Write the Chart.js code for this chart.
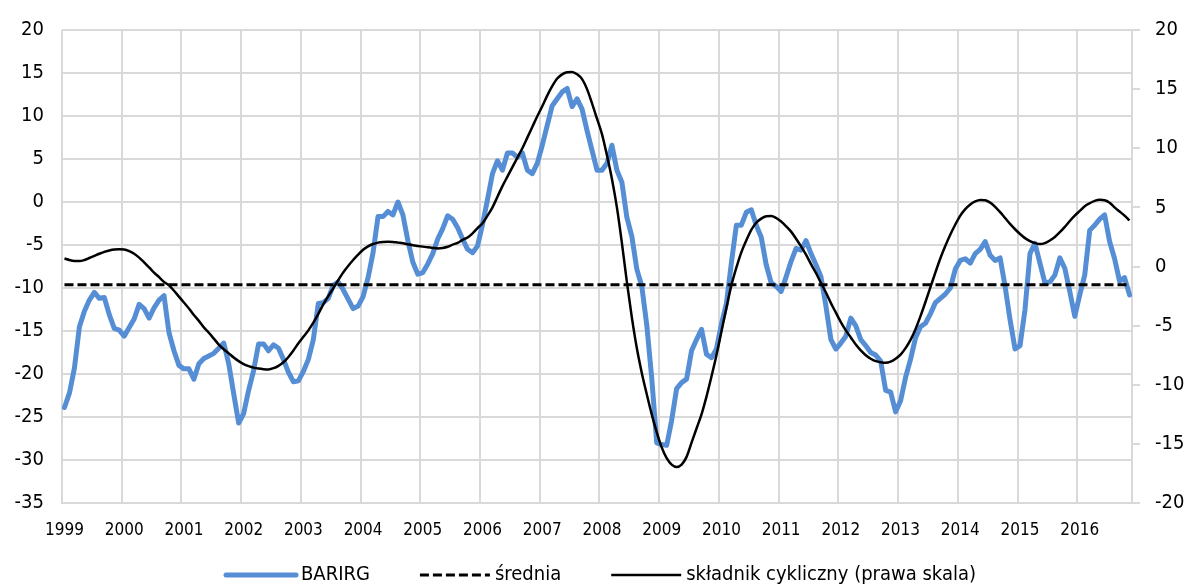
<!DOCTYPE html>
<html>
<head>
<meta charset="utf-8">
<script src="https://cdn.jsdelivr.net/npm/chart.js@4.4.1/dist/chart.umd.min.js"></script>
<style>
  html, body { margin: 0; padding: 0; background: #fff; }
  #wrap { width: 1189px; height: 588px; position: relative; }
</style>
</head>
<body>
<div id="wrap"><canvas id="chart"></canvas></div>
<script>
const yearLabels = ['1999', '2000', '2001', '2002', '2003', '2004', '2005', '2006', '2007',
  '2008', '2009', '2010', '2011', '2012', '2013', '2014', '2015', '2016'];

// monthly values, Jan 1999 - Nov 2016
const barirg = [
  -23.9, -22.2, -19.3, -14.5, -12.7, -11.4, -10.5, -11.2, -11.1, -13.1, -14.7, -14.9,
  -15.6, -14.6, -13.6, -11.9, -12.4, -13.5, -12.3, -11.4, -10.9, -15.2, -17.3, -19.0,
  -19.4, -19.4, -20.6, -18.8, -18.2, -17.9, -17.6, -17.0, -16.4, -18.8, -22.3, -25.7,
  -24.6, -21.9, -19.6, -16.5, -16.5, -17.3, -16.6, -17.0, -18.3, -19.8, -20.9, -20.8,
  -19.7, -18.3, -16.0, -11.8, -11.7, -11.2, -9.7, -9.3, -10.2, -11.3, -12.4, -12.1,
  -11.0, -8.8, -5.9, -1.7, -1.7, -1.1, -1.5, 0.0, -1.5, -4.5, -7.0, -8.4,
  -8.2, -7.2, -6.0, -4.3, -3.1, -1.6, -2.0, -3.0, -4.3, -5.5, -5.9, -5.1,
  -2.6, 0.3, 3.3, 4.8, 3.7, 5.7, 5.7, 5.2, 5.7, 3.7, 3.3, 4.5,
  6.6, 8.9, 11.2, 12.0, 12.8, 13.2, 11.1, 12.0, 10.8, 8.3, 6.0, 3.7,
  3.7, 4.5, 6.6, 3.7, 2.3, -1.8, -4.0, -7.8, -9.8, -14.3, -20.5, -28.0,
  -28.2, -28.3, -25.4, -21.7, -21.0, -20.6, -17.3, -16.0, -14.8, -17.7, -18.1, -17.1,
  -14.2, -11.8, -7.1, -2.7, -2.7, -1.2, -0.9, -2.7, -4.1, -7.3, -9.4, -9.8,
  -10.4, -8.7, -6.9, -5.4, -5.6, -4.5, -6.0, -7.3, -8.7, -12.1, -16.0, -17.1,
  -16.4, -15.6, -13.5, -14.4, -16.0, -16.7, -17.5, -17.8, -18.5, -21.9, -22.1, -24.4,
  -23.1, -20.4, -18.3, -15.8, -14.5, -14.1, -13.0, -11.7, -11.2, -10.7, -10.0, -7.8,
  -6.8, -6.6, -7.1, -6.0, -5.5, -4.6, -6.2, -6.8, -6.5, -9.8, -13.7, -17.1,
  -16.7, -12.5, -6.0, -4.8, -7.1, -9.4, -9.3, -8.5, -6.5, -7.7, -10.4, -13.3,
  -10.8, -8.5, -3.3, -2.7, -2.0, -1.5, -4.6, -6.6, -9.2, -8.8, -10.8,
];

// right scale
const cyclical = [
  0.68, 0.55, 0.47, 0.46, 0.55, 0.72, 0.9, 1.08, 1.24, 1.35, 1.43, 1.46,
  1.44, 1.3, 1.08, 0.75, 0.35, -0.08, -0.52, -0.9, -1.3, -1.6, -2.05, -2.55,
  -3.05, -3.55, -4.1, -4.6, -5.15, -5.6, -6.1, -6.6, -7.0, -7.35, -7.7, -8.0,
  -8.25, -8.42, -8.55, -8.63, -8.68, -8.7, -8.6, -8.4, -8.1, -7.65, -7.1, -6.5,
  -5.95, -5.4, -4.75, -4.0, -3.2, -2.5, -1.85, -1.15, -0.5, 0.05, 0.55, 1.0,
  1.42, 1.7, 1.9, 2.02, 2.08, 2.1, 2.08, 2.02, 1.96, 1.88, 1.8, 1.74,
  1.68, 1.62, 1.57, 1.53, 1.57, 1.67, 1.85, 2.0, 2.25, 2.45, 2.8, 3.25,
  3.65, 4.3, 5.0, 5.9, 6.8, 7.6, 8.4, 9.2, 10.0, 10.9, 11.8, 12.7,
  13.55, 14.45, 15.25, 15.9, 16.25, 16.42, 16.45, 16.25, 15.85, 15.0, 13.8, 12.5,
  11.2, 9.4, 7.4, 5.0, 2.0, -1.3, -4.3, -6.9, -9.0, -10.8, -12.5, -14.0,
  -15.3, -16.2, -16.75, -16.95, -16.75, -16.1, -14.9, -13.7, -12.5, -11.0, -9.3, -7.5,
  -5.5, -3.5, -1.6, -0.1, 1.2, 2.2, 3.1, 3.7, 4.05, 4.25, 4.27, 4.1,
  3.8, 3.4, 2.95, 2.35, 1.7, 1.0, 0.2, -0.55, -1.4, -2.2, -3.1, -3.9,
  -4.7, -5.4, -6.0, -6.6, -7.1, -7.5, -7.8, -8.0, -8.1, -8.15, -8.05, -7.8,
  -7.45, -6.9, -6.2, -5.3, -4.2, -3.0, -1.75, -0.5, 0.7, 1.75, 2.7, 3.55,
  4.3, 4.85, 5.25, 5.5, 5.62, 5.6, 5.4, 5.05, 4.6, 4.1, 3.6, 3.15,
  2.75, 2.4, 2.15, 1.98, 1.9, 1.98, 2.2, 2.5, 2.9, 3.35, 3.85, 4.3,
  4.7, 5.1, 5.35, 5.55, 5.65, 5.6, 5.4, 5.0, 4.65, 4.3, 3.9,
];

const meanValue = -9.62;

const leftTicks = { min: -35, max: 20, step: 5 };
const rightTicks = { min: -20, max: 20, step: 5 };

const months = yearLabels
  .flatMap((y) => ['01', '02', '03', '04', '05', '06', '07', '08', '09', '10', '11', '12'].map((m) => y + '-' + m))
  .slice(0, barirg.length);

const FONT = '"DejaVu Sans Condensed", "DejaVu Sans", sans-serif';
const GRID = '#d9d9d9';

// legend drawn under the plot, samples 70px long like the original
const bottomLegend = {
  id: 'bottomLegend',
  afterDraw(chart) {
    const ctx = chart.ctx;
    const sample = 70;
    const gap = 50;
    ctx.save();
    ctx.font = '20px ' + FONT;
    const items = chart.data.datasets.map((ds) => ({ ds, w: ctx.measureText(ds.label).width }));
    const total = items.reduce((s, it) => s + sample + 5 + it.w, 0) + gap * (items.length - 1);
    let x = 601 - total / 2;
    const y = 575;
    items.forEach(({ ds, w }) => {
      ctx.beginPath();
      ctx.strokeStyle = ds.borderColor;
      ctx.lineWidth = ds.borderWidth;
      ctx.lineCap = ds.borderCapStyle || 'butt';
      ctx.setLineDash(ds.borderDash || []);
      ctx.moveTo(x, y);
      ctx.lineTo(x + sample, y);
      ctx.stroke();
      ctx.setLineDash([]);
      ctx.fillStyle = '#000';
      ctx.textBaseline = 'middle';
      ctx.textAlign = 'left';
      ctx.fillText(ds.label, x + sample + 5, y);
      x += sample + 5 + w + gap;
    });
    ctx.restore();
  },
};

new Chart(document.getElementById('chart'), {
  type: 'line',
  data: {
    labels: months,
    datasets: [
      {
        label: 'BARIRG',
        data: barirg,
        yAxisID: 'y',
        borderColor: '#558ed5',
        borderWidth: 5,
        borderJoinStyle: 'round',
        borderCapStyle: 'round',
        pointRadius: 0,
        tension: 0,
        order: 3,
      },
      {
        label: 'średnia',
        data: months.map(() => meanValue),
        yAxisID: 'y',
        borderColor: '#000',
        borderWidth: 3,
        borderDash: [9, 4],
        pointRadius: 0,
        order: 2,
      },
      {
        label: 'składnik cykliczny (prawa skala)',
        data: cyclical,
        yAxisID: 'y1',
        borderColor: '#000',
        borderWidth: 2.5,
        pointRadius: 0,
        cubicInterpolationMode: 'monotone',
        order: 1,
      },
    ],
  },
  options: {
    responsive: true,
    maintainAspectRatio: false,
    animation: false,
    layout: { padding: { left: 0, right: 0, top: 26, bottom: 45 } },
    plugins: {
      legend: { display: false },
      tooltip: { enabled: false },
    },
    scales: {
      x: {
        type: 'category',
        offset: true,
        grid: {
          offset: true,
          drawTicks: false,
          lineWidth: 2,
          color: (c) => (c.index % 12 === 0 ? GRID : 'rgba(0,0,0,0)'),
        },
        border: { color: GRID, width: 2 },
        ticks: {
          autoSkip: false,
          maxRotation: 0,
          minRotation: 0,
          padding: 17,
          color: '#000',
          font: { family: FONT, size: 17 },
          callback: (v, i) => (i % 12 === 0 ? yearLabels[i / 12] : ''),
        },
        afterFit: (s) => { s.height = 40; },
      },
      y: {
        position: 'left',
        min: leftTicks.min,
        max: leftTicks.max,
        grid: { color: GRID, lineWidth: 2, drawTicks: false },
        border: { display: false },
        ticks: {
          stepSize: leftTicks.step,
          padding: 18,
          color: '#000',
          font: { family: FONT, size: 20 },
        },
        afterFit: (s) => { s.width = 62; },
      },
      y1: {
        position: 'right',
        min: rightTicks.min,
        max: rightTicks.max,
        grid: { drawOnChartArea: false, color: GRID, lineWidth: 2, tickLength: 8 },
        border: { color: GRID, width: 2 },
        ticks: {
          stepSize: rightTicks.step,
          padding: 15,
          color: '#000',
          font: { family: FONT, size: 20 },
        },
        afterFit: (s) => { s.width = 57; },
      },
    },
  },
  plugins: [bottomLegend],
});
</script>
</body>
</html>
